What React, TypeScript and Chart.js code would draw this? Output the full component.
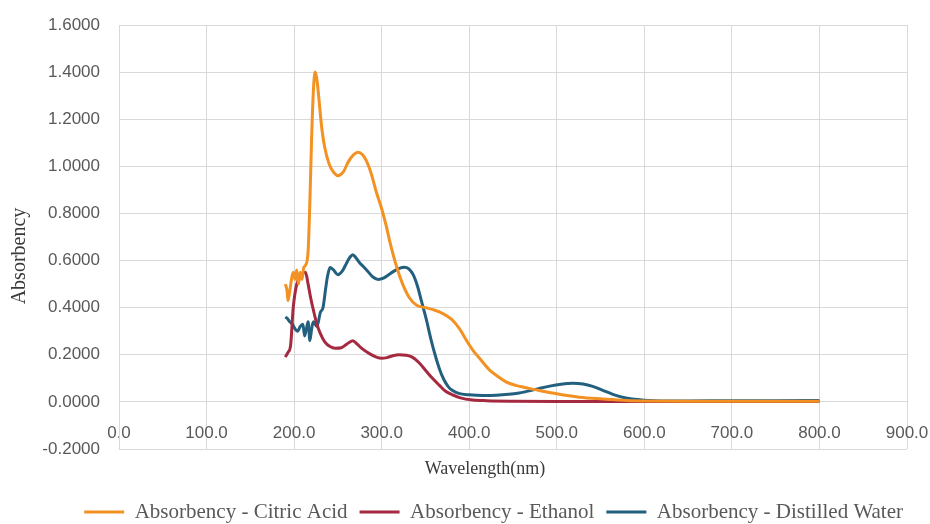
import React, { useEffect, useRef } from "react";
import { Chart, registerables } from "chart.js";

Chart.register(...registerables);

// Absorbency - Citric Acid
const citricWl = [190, 192, 193, 195, 197, 199, 201, 203, 205, 207, 209, 211, 213, 216, 218, 220, 222, 224, 226, 228, 230, 232, 235, 240, 245, 250, 256, 262, 268, 273, 278, 283, 288, 294, 300, 305, 310, 317, 324, 332, 340, 350, 360, 370, 380, 389, 397, 404, 413, 423, 432, 442, 453, 465, 480, 495, 510, 526, 545, 564, 580, 602, 650, 700, 750, 800];
const citricAbs = [0.50, 0.47, 0.43, 0.47, 0.52, 0.55, 0.52, 0.56, 0.50, 0.55, 0.52, 0.57, 0.58, 0.64, 0.85, 1.12, 1.32, 1.40, 1.37, 1.30, 1.22, 1.15, 1.08, 1.01, 0.975, 0.96, 0.975, 1.02, 1.05, 1.06, 1.05, 1.02, 0.97, 0.89, 0.82, 0.75, 0.67, 0.575, 0.50, 0.44, 0.41, 0.40, 0.39, 0.375, 0.35, 0.31, 0.26, 0.22, 0.18, 0.136, 0.11, 0.085, 0.07, 0.06, 0.048, 0.038, 0.028, 0.02, 0.014, 0.01, 0.006, 0.004, 0.003, 0.003, 0.003, 0.003];

// Absorbency - Ethanol
const ethanolWl = [190, 193, 196, 199, 203, 207, 210, 213, 216, 219, 222, 226, 230, 235, 241, 247, 254, 260, 267, 272, 278, 286, 294, 300, 306, 312, 320, 328, 335, 343, 351, 358, 366, 373, 381, 390, 404, 420, 450, 500, 600, 700, 800];
const ethanolAbs = [0.19, 0.21, 0.24, 0.40, 0.50, 0.53, 0.545, 0.55, 0.50, 0.44, 0.39, 0.33, 0.29, 0.255, 0.235, 0.228, 0.23, 0.245, 0.26, 0.245, 0.225, 0.205, 0.19, 0.185, 0.188, 0.195, 0.20, 0.198, 0.19, 0.165, 0.13, 0.10, 0.07, 0.045, 0.03, 0.017, 0.008, 0.005, 0.003, 0.002, 0.002, 0.002, 0.002];

// Absorbency - Distilled Water
const waterWl = [190, 192, 195, 198, 201, 204, 207, 210, 212, 214, 216, 218, 220, 222, 226, 230, 233, 236, 238, 241, 245, 250, 255, 260, 264, 267, 271, 275, 279, 284, 290, 296, 302, 308, 314, 320, 326, 331, 336, 341, 346, 351, 356, 361, 366, 371, 376, 381, 388, 400, 415, 431, 445, 457, 470, 480, 492, 505, 518, 530, 541, 552, 564, 575, 586, 600, 620, 650, 700, 750, 800];
const waterAbs = [0.36, 0.355, 0.34, 0.33, 0.31, 0.30, 0.32, 0.33, 0.28, 0.31, 0.34, 0.26, 0.31, 0.34, 0.32, 0.38, 0.40, 0.48, 0.53, 0.57, 0.56, 0.54, 0.555, 0.59, 0.615, 0.625, 0.61, 0.59, 0.575, 0.555, 0.53, 0.52, 0.525, 0.54, 0.555, 0.567, 0.572, 0.565, 0.54, 0.49, 0.42, 0.35, 0.27, 0.20, 0.14, 0.095, 0.065, 0.048, 0.036, 0.03, 0.027, 0.028, 0.032, 0.038, 0.048, 0.057, 0.067, 0.075, 0.079, 0.076, 0.066, 0.05, 0.032, 0.02, 0.012, 0.007, 0.004, 0.004, 0.005, 0.005, 0.006];

const seriesNames = ["Absorbency - Citric Acid", "Absorbency - Ethanol", "Absorbency - Distilled Water"];
const seriesColors = ["#F39223", "#A5293F", "#23607F"];

const xTitle = "Wavelength(nm)";
const yTitle = "Absorbency";
const xMin = 0, xMax = 900, xStep = 100;
const yMin = -0.2, yMax = 1.6, yStep = 0.2;

const toPoints = (xs: number[], ys: number[]) => xs.map((x, i) => ({ x, y: ys[i] }));

const titlesPlugin = {
  id: "axisTitles",
  afterDraw(chart: any) {
    const ctx = chart.ctx;
    const area = chart.chartArea;
    ctx.save();
    ctx.fillStyle = "#3a3a3a";
    ctx.textAlign = "center";
    ctx.textBaseline = "middle";
    ctx.font = "18px 'Liberation Serif'";
    ctx.fillText(xTitle, area.left + 366, area.bottom + 20);
    ctx.translate(20, area.top + 231);
    ctx.rotate(-Math.PI / 2);
    ctx.font = "20px 'Liberation Serif'";
    ctx.fillText(yTitle, 0, 0);
    ctx.restore();
  },
};

export default function App() {
  const canvasRef = useRef<HTMLCanvasElement | null>(null);

  useEffect(() => {
    document.body.style.margin = "0";
    const canvas = canvasRef.current;
    if (!canvas) return;
    Chart.defaults.font.family = "'Liberation Sans', Arial, sans-serif";
    Chart.defaults.font.size = 17;
    Chart.defaults.color = "#595959";

    const series = [
      toPoints(citricWl, citricAbs),
      toPoints(ethanolWl, ethanolAbs),
      toPoints(waterWl, waterAbs),
    ];

    const chart = new Chart(canvas, {
      type: "line",
      data: {
        datasets: series.map((pts, i) => ({
          label: seriesNames[i],
          data: pts,
          borderColor: seriesColors[i],
          backgroundColor: seriesColors[i],
          borderWidth: 3,
          pointRadius: 0,
          fill: false,
          cubicInterpolationMode: "monotone" as const,
          xAxisID: "x",
          yAxisID: "y",
        })),
      },
      plugins: [titlesPlugin],
      options: {
        animation: false,
        responsive: true,
        maintainAspectRatio: false,
        layout: { padding: { top: 0, right: 15, bottom: -8.5, left: 0 } },
        plugins: {
          tooltip: { enabled: false },
          legend: {
            display: true,
            position: "bottom",
            align: "end",
            labels: {
              usePointStyle: true,
              pointStyle: "line",
              pointStyleWidth: 40,
              padding: 12,
              color: "#595959",
              font: { family: "'Liberation Serif', serif", size: 21 },
            },
          },
        },
        scales: {
          x: {
            type: "linear",
            position: { y: 0 } as any,
            min: xMin,
            max: xMax,
            ticks: {
              stepSize: xStep,
              padding: 21,
              color: "#595959",
              callback: (v: any) => Number(v).toFixed(1),
            },
            grid: { color: "#d9d9d9", lineWidth: 1, drawTicks: false },
            border: { color: "#d9d9d9", width: 1 },
            afterFit: (s: any) => { s.paddingLeft = 0; s.paddingRight = 23; s.paddingTop = 0; s.paddingBottom = 0; },
          },
          x2: {
            type: "linear",
            position: "bottom",
            display: true,
            ticks: { display: false },
            grid: { display: false, drawTicks: false },
            border: { display: false },
            afterFit: (s: any) => { s.height = 40.5; s.paddingLeft = 0; s.paddingRight = 0; },
          },
          y: {
            type: "linear",
            position: "left",
            min: yMin,
            max: yMax,
            ticks: {
              stepSize: yStep,
              padding: 19,
              color: "#595959",
              callback: (v: any) => Number(v).toFixed(4),
            },
            grid: { color: "#d9d9d9", lineWidth: 1, drawTicks: false },
            border: { color: "#d9d9d9", width: 1 },
            afterFit: (s: any) => { s.width = 119; s.paddingTop = 25; s.paddingBottom = 0; },
          },
        },
      },
    });
    return () => chart.destroy();
  }, []);

  return (
    <div style={{ width: "930px", height: "524px", position: "relative" }}>
      <canvas ref={canvasRef} />
    </div>
  );
}
